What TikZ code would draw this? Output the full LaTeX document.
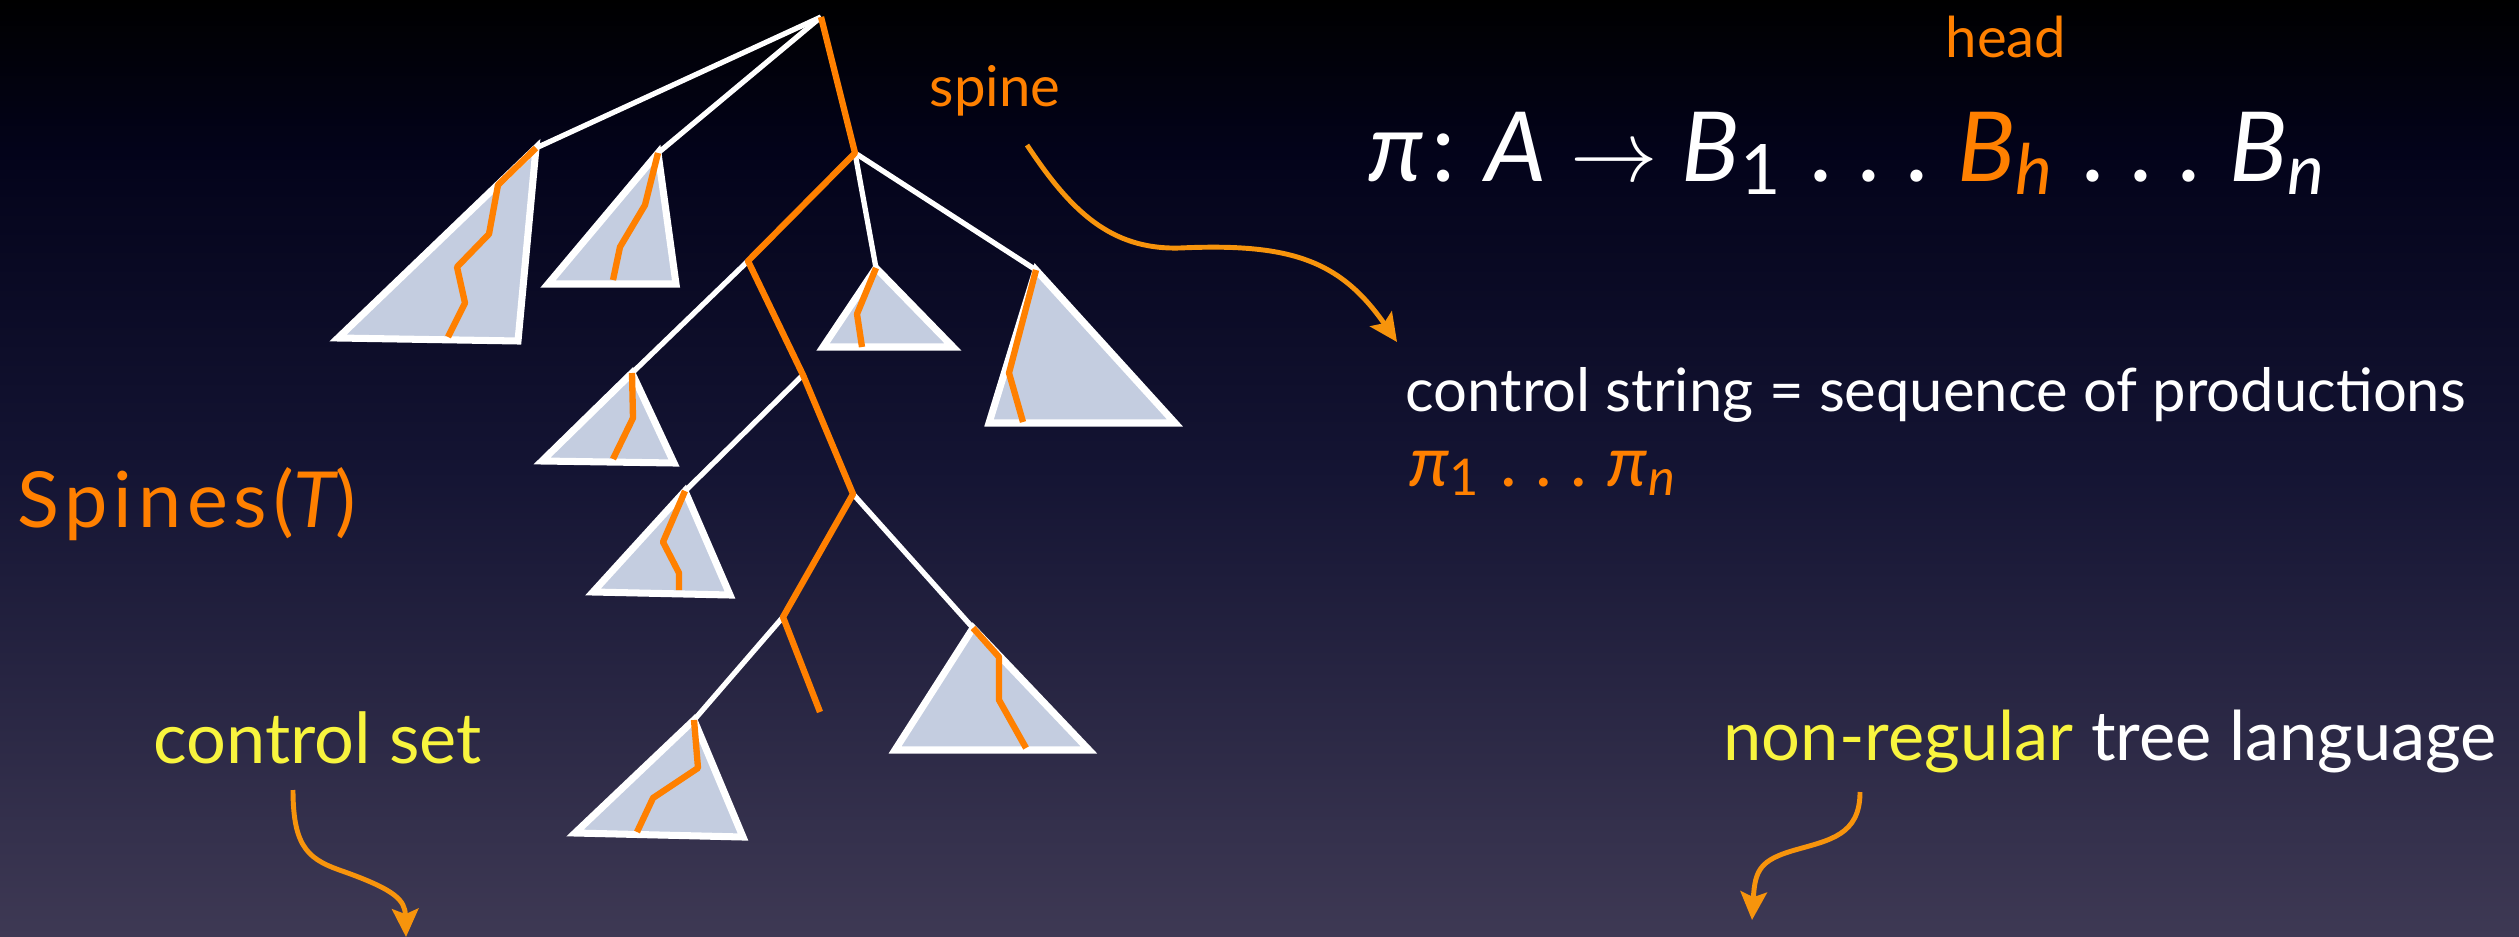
\documentclass[tikz,border=0pt]{standalone}
\usepackage{fontspec}
\setmainfont{Lato}
\newfontfamily\widefont[LetterSpace=7.5]{Lato}
\usepackage{xcolor}
\usepackage{graphicx}
\usetikzlibrary{arrows.meta, positioning, calc}

\definecolor{spineor}{HTML}{FF8000}
\definecolor{arrowor}{HTML}{F7940C}
\definecolor{ctrlyel}{HTML}{F8F43E}
\definecolor{subfill}{HTML}{C4CDE0}
\definecolor{bgtop}{HTML}{000000}
\definecolor{bgupper}{HTML}{03031A}
\definecolor{bgmid}{HTML}{141433}
\definecolor{bgbot}{HTML}{3E3954}
\pgfdeclareverticalshading{slidebg}{100bp}{color(0bp)=(bgbot); color(25bp)=(bgbot); color(50bp)=(bgmid); color(67bp)=(bgupper); color(75bp)=(bgtop); color(100bp)=(bgtop)}

\newcommand{\lsub}[1]{\raisebox{-0.13em}{\scalebox{0.72}{#1}}}
\newcommand{\dts}{\hspace{0.3em}.\hspace{0.26em}.\hspace{0.26em}.\hspace{0.3em}}

\begin{document}
\begin{tikzpicture}[
    x=0.01cm, y=-0.01cm,
    edge/.style={draw=white, line width=1.5pt},
    spinepath/.style={draw=spineor, line width=1.8pt, line join=round},
    subtree/.style={draw=white, line width=2pt, fill=subfill},
    arr/.style={-{Stealth[length=8pt, width=7.5pt, inset=1.5pt]}, draw=arrowor, line width=1.4pt},
    lbl/.style={font=\fontsize{16}{19}\selectfont, inner sep=0pt, anchor=base west},
    biglbl/.style={font=\fontsize{20}{24}\selectfont, inner sep=0pt, anchor=base west},
    prodlbl/.style={font=\fontsize{27.5}{32}\selectfont, inner sep=0pt, anchor=base west},
]
\shade[shading=slidebg] (0,0) rectangle (2519,937);
\useasboundingbox (0,0) rectangle (2519,937);

% spine nodes
\coordinate (root) at (821,17);
\coordinate (s2) at (855,153);
\coordinate (s3) at (748,261);
\coordinate (s4) at (803,375);
\coordinate (s5) at (853,494);
\coordinate (s6) at (783,617);
\coordinate (s7) at (820,712);

% subtree apexes
\coordinate (t1) at (536,148);
\coordinate (t2) at (658,153);
\coordinate (t3) at (876,268);
\coordinate (t4) at (632,373);
\coordinate (t5) at (685,491);
\coordinate (t6) at (1036,270);
\coordinate (t7) at (973,628);
\coordinate (t8) at (694,720);

\draw[edge] (root) -- (t1);
\draw[edge] (root) -- (t2);
\draw[edge] (s2) -- (t3);
\draw[edge] (s2) -- (t6);
\draw[edge] (s3) -- (t4);
\draw[edge] (s4) -- (t5);
\draw[edge] (s5) -- (t7);
\draw[edge] (s6) -- (t8);

\draw[subtree] (t1) -- (338,338) -- (518,341) -- cycle;
\draw[subtree] (t2) -- (548,284) -- (676,284) -- cycle;
\draw[subtree] (t3) -- (823,347) -- (953,347) -- cycle;
\draw[subtree] (t4) -- (542,461) -- (674,463) -- cycle;
\draw[subtree] (t5) -- (593,592) -- (730,595) -- cycle;
\draw[subtree] (t6) -- (989,423) -- (1175,423) -- cycle;
\draw[subtree] (t7) -- (895,750) -- (1089,750) -- cycle;
\draw[subtree] (t8) -- (575,833) -- (743,837) -- cycle;

\draw[spinepath] (t1) -- (498,185) -- (489,234) -- (457,267) -- (465,303) -- (448,337);
\draw[spinepath] (t2) -- (645,205) -- (620,247) -- (613,280);
\draw[spinepath] (t3) -- (857,314) -- (862,347);
\draw[spinepath] (t4) -- (633,418) -- (613,459);
\draw[spinepath] (t5) -- (663,542) -- (679,573) -- (679,590);
\draw[spinepath] (t6) -- (1009,373) -- (1023,422);
\draw[spinepath] (t7) -- (999,657) -- (999,700) -- (1026,748);
\draw[spinepath] (t8) -- (698,768) -- (653,798) -- (637,832);

\draw[spinepath] (root) -- (s2) -- (s3) -- (s4) -- (s5) -- (s6) -- (s7);

% labels
\node[lbl, text=spineor] (spinelbl) at (929,107) {spine};
\node[lbl, text=spineor] (headlbl) at (1945,58) {head};
\node[prodlbl, text=white] (prod) at (1368,182) {{\itshape π}\hspace{0.08em}:\hspace{0.3em}{\itshape A}\hspace{0.25em}$\rightarrow$\hspace{0.25em}{\itshape B}\lsub{1}\dts{\color{spineor}{\itshape B}\lsub{\itshape h}}\dts{\itshape B}\lsub{\itshape n}};
\node[lbl, font=\fontsize{17}{20}\selectfont, text=white] (ctrlstr) at (1405,412) {control string = sequence of productions};
\node[biglbl, text=spineor] (pis) at (1409,486) {{\itshape π}\lsub{1}\dts{\itshape π}\lsub{\itshape n}};
\node[biglbl, font=\widefont\fontsize{22}{26}\selectfont, text=spineor] (spines) at (17,527) {Spines({\itshape T})};
\node[biglbl, text=ctrlyel] (ctrlset) at (153,763) {control set};
\node[biglbl, font=\fontsize{19.5}{24}\selectfont, text=white] (nonreg) at (1723,760) {{\color{ctrlyel}non-regular} tree language};

% arrows
\coordinate (spinefrom) at (1027,145);
\coordinate (spineto) at (1397,342);
\coordinate (setfrom) at (293,790);
\coordinate (setto) at (406,937);
\coordinate (regfrom) at (1860,792);
\coordinate (regto) at (1752,920);

\draw[arr] (spinefrom) .. controls (1070,210) and (1110,250) .. (1180,248) .. controls (1290,243) and (1340,260) .. (spineto);
\draw[arr] (setfrom) .. controls (293,850) and (310,860) .. (345,872) .. controls (395,890) and (405,900) .. (setto);
\draw[arr] (regfrom) .. controls (1860,835) and (1830,840) .. (1795,850) .. controls (1760,860) and (1755,870) .. (regto);
\end{tikzpicture}
\end{document}
